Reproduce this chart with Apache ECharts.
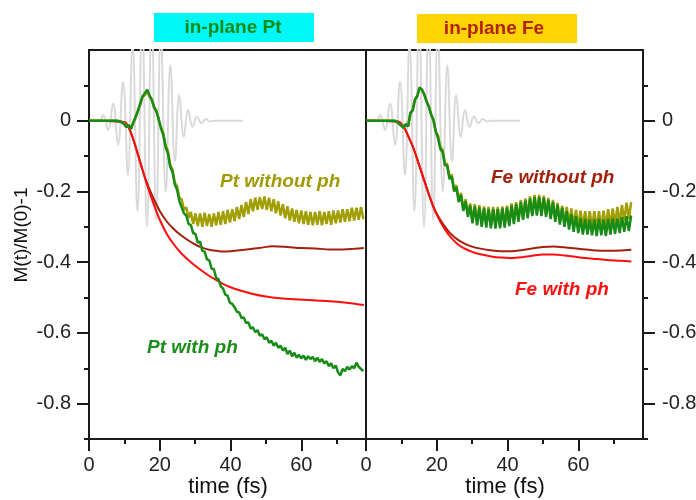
<!DOCTYPE html>
<html><head><meta charset="utf-8">
<script src="https://cdn.jsdelivr.net/npm/echarts@6/dist/echarts.min.js"></script>
<style>html,body{margin:0;padding:0;background:#fff}#c{width:696px;height:500px}</style>
</head><body><div id="c"></div>
<script>
const FONT = '"Liberation Sans", Arial, Helvetica, sans-serif';

// ---- axis ticks / labels ----
const xTickLabels = [0, 20, 40, 60];
const xMinorTicks = [10, 30, 50, 70];
const yTickLabels = [-0.8, -0.6, -0.4, -0.2, 0];
const yMinorTicks = [-0.9, -0.7, -0.5, -0.3, -0.1, 0.1];
const xRange = [0, 78.3];
const yRange = [-0.9, 0.2];

// ---- texts ----
const panelTitles = ['in-plane Pt', 'in-plane Fe'];
const curveLabels = ['Pt without ph', 'Pt with ph', 'Fe without ph', 'Fe with ph'];
const xTitle = 'time (fs)';
const yTitle = 'M(t)/M(0)-1';

// ---- laser pulse (grey, both panels) ----
const pulseT = [0, 3.0, 4.0, 5.4, 6.8, 8.2, 9.6, 11.0, 12.3, 13.7, 15.0, 16.4, 17.7, 19.0, 20.3, 21.7, 23.0, 24.3, 25.5, 26.8, 28.0, 29.3, 30.5, 31.8, 33.0, 34.2, 35.5, 43.5];
const pulseV = [0, 0, 0.016, -0.026, 0.049, -0.068, 0.11, -0.153, 0.22, -0.256, 0.29, -0.30, 0.31, -0.28, 0.25, -0.20, 0.157, -0.115, 0.072, -0.045, 0.03, -0.017, 0.011, -0.007, 0.005, -0.002, 0, 0];

// ---- noisy curves: sampled from t = 8 fs every 0.65 fs (preceded by a flat start at t = 0) ----
const noisyStart = 8, noisyStep = 0.65;
const ptWithoutPh = [
 0.000, -0.002, -0.004, -0.008, -0.016, -0.014, -0.022, -0.005, 0.008, 0.030,
 0.045, 0.070, 0.072, 0.085, 0.068, 0.062, 0.035, 0.030, 0.002, -0.018,
 -0.035, -0.070, -0.085, -0.125, -0.138, -0.175, -0.185, -0.218, -0.222, -0.252,
 -0.245, -0.275, -0.258, -0.292, -0.262, -0.298, -0.262, -0.300, -0.260, -0.298,
 -0.264, -0.300, -0.262, -0.296, -0.258, -0.294, -0.256, -0.292, -0.252, -0.288,
 -0.250, -0.284, -0.244, -0.278, -0.238, -0.272, -0.230, -0.264, -0.222, -0.256,
 -0.218, -0.252, -0.216, -0.250, -0.214, -0.252, -0.218, -0.256, -0.222, -0.262,
 -0.228, -0.268, -0.236, -0.276, -0.242, -0.282, -0.248, -0.286, -0.252, -0.290,
 -0.254, -0.292, -0.256, -0.294, -0.258, -0.296, -0.258, -0.294, -0.256, -0.296,
 -0.258, -0.292, -0.256, -0.294, -0.254, -0.290, -0.254, -0.288, -0.250, -0.286,
 -0.250, -0.284, -0.246, -0.282, -0.246, -0.280, -0.244, -0.278];
const ptWithPh = [
 0.000, -0.002, -0.005, -0.010, -0.018, -0.012, -0.024, -0.004, 0.012, 0.028,
 0.050, 0.068, 0.078, 0.088, 0.072, 0.058, 0.040, 0.025, 0.005, -0.022,
 -0.040, -0.075, -0.092, -0.130, -0.145, -0.180, -0.195, -0.228, -0.245, -0.262,
 -0.268, -0.292, -0.295, -0.318, -0.320, -0.345, -0.342, -0.368, -0.370, -0.392,
 -0.395, -0.418, -0.420, -0.445, -0.448, -0.468, -0.475, -0.492, -0.495, -0.515,
 -0.518, -0.528, -0.540, -0.542, -0.558, -0.556, -0.572, -0.570, -0.588, -0.584,
 -0.598, -0.592, -0.608, -0.604, -0.618, -0.612, -0.628, -0.622, -0.636, -0.628,
 -0.642, -0.636, -0.650, -0.642, -0.660, -0.650, -0.666, -0.656, -0.670, -0.662,
 -0.672, -0.664, -0.676, -0.666, -0.674, -0.668, -0.680, -0.670, -0.682, -0.674,
 -0.686, -0.680, -0.694, -0.686, -0.700, -0.692, -0.712, -0.720, -0.702, -0.708,
 -0.696, -0.704, -0.694, -0.700, -0.684, -0.696, -0.702, -0.708];
const feOlive = [
 0.000, -0.003, -0.008, -0.014, -0.020, -0.010, -0.016, 0.022, 0.030, 0.060,
 0.070, 0.094, 0.088, 0.075, 0.055, 0.040, 0.018, 0.002, -0.030, -0.042,
 -0.074, -0.082, -0.119, -0.122, -0.159, -0.152, -0.194, -0.182, -0.224, -0.204,
 -0.249, -0.222, -0.266, -0.234, -0.284, -0.236, -0.290, -0.239, -0.294, -0.242,
 -0.296, -0.244, -0.298, -0.244, -0.299, -0.244, -0.298, -0.242, -0.296, -0.240,
 -0.292, -0.234, -0.286, -0.230, -0.280, -0.224, -0.274, -0.220, -0.270, -0.214,
 -0.264, -0.210, -0.262, -0.210, -0.264, -0.212, -0.266, -0.218, -0.272, -0.224,
 -0.280, -0.232, -0.288, -0.240, -0.290, -0.244, -0.294, -0.248, -0.298, -0.252,
 -0.300, -0.254, -0.302, -0.256, -0.304, -0.256, -0.304, -0.256, -0.306, -0.256,
 -0.304, -0.254, -0.300, -0.250, -0.298, -0.248, -0.294, -0.244, -0.290, -0.238,
 -0.284, -0.232, -0.278, -0.230];
const feGreen = [
 0.000, -0.003, -0.008, -0.014, -0.020, -0.010, -0.016, 0.022, 0.030, 0.060,
 0.070, 0.094, 0.088, 0.075, 0.055, 0.040, 0.018, 0.002, -0.030, -0.048,
 -0.080, -0.088, -0.125, -0.128, -0.165, -0.158, -0.200, -0.188, -0.230, -0.210,
 -0.255, -0.228, -0.272, -0.240, -0.290, -0.242, -0.296, -0.245, -0.300, -0.248,
 -0.302, -0.250, -0.304, -0.250, -0.305, -0.250, -0.304, -0.248, -0.302, -0.246,
 -0.298, -0.240, -0.292, -0.236, -0.286, -0.230, -0.280, -0.226, -0.276, -0.220,
 -0.270, -0.216, -0.268, -0.216, -0.270, -0.218, -0.272, -0.224, -0.278, -0.230,
 -0.286, -0.238, -0.294, -0.246, -0.300, -0.256, -0.308, -0.264, -0.314, -0.270,
 -0.318, -0.276, -0.322, -0.278, -0.322, -0.280, -0.324, -0.280, -0.326, -0.278,
 -0.324, -0.280, -0.326, -0.278, -0.322, -0.276, -0.320, -0.276, -0.318, -0.272,
 -0.314, -0.270, -0.312, -0.268];

// ---- smooth curves ----
const ptRedT = [0, 10, 11.5, 13, 14.5, 16, 18, 20, 22, 24, 26, 28, 30, 32, 34, 36, 38, 40, 43, 46, 50, 54, 58, 62, 66, 70, 74, 77.7];
const ptRedV = [0, -0.004, -0.025, -0.068, -0.118, -0.168, -0.228, -0.28, -0.32, -0.35, -0.374, -0.393, -0.41, -0.425, -0.439, -0.451, -0.462, -0.471, -0.481, -0.489, -0.497, -0.502, -0.505, -0.507, -0.509, -0.512, -0.516, -0.521];
const ptDarkRedT = [0, 10, 11.5, 13, 14.5, 16, 18, 20, 22, 24, 26, 28, 30, 32, 34, 36, 38, 40, 44, 48, 52, 56, 60, 64, 68, 72, 75, 77.7];
const ptDarkRedV = [0, -0.004, -0.025, -0.068, -0.118, -0.166, -0.215, -0.255, -0.285, -0.307, -0.324, -0.338, -0.35, -0.359, -0.365, -0.368, -0.37, -0.369, -0.365, -0.36, -0.355, -0.357, -0.36, -0.361, -0.364, -0.364, -0.362, -0.36];
const feT = [0, 9, 10.5, 12, 13.5, 15, 16.5, 18, 19.5, 21, 22.5, 24, 26, 28, 30, 32, 35, 38, 41, 44, 47, 50, 53, 56, 60, 64, 68, 72, 75];
const feWithPh = [0, -0.002, -0.015, -0.045, -0.08, -0.125, -0.17, -0.215, -0.255, -0.285, -0.31, -0.33, -0.35, -0.362, -0.371, -0.377, -0.383, -0.387, -0.388, -0.386, -0.382, -0.378, -0.378, -0.381, -0.386, -0.39, -0.394, -0.396, -0.398];
const feWithoutPh = [0, -0.002, -0.015, -0.045, -0.08, -0.125, -0.17, -0.215, -0.253, -0.28, -0.302, -0.32, -0.337, -0.348, -0.356, -0.361, -0.366, -0.369, -0.369, -0.366, -0.361, -0.357, -0.356, -0.358, -0.362, -0.366, -0.368, -0.367, -0.365];

// ---- colours ----
const C = { grey: '#d9d9d9', olive: '#a09e00', green: '#178c17', darkred: '#a3200c', red: '#ff0d0d', axis: '#1a1a1a' };

function pairs(ts, vs) { return vs.map((v, i) => [ts[i], v]); }
function noisy(vs) {
  const out = [[0, 0]];
  vs.forEach((v, i) => out.push([+(noisyStart + noisyStep * i).toFixed(2), v]));
  return out;
}

const grids = [
  { left: 89, top: 50, width: 277, height: 389, show: true, borderColor: C.axis, borderWidth: 2, containLabel: false, outerBoundsMode: 'none' },
  { left: 366, top: 50, width: 277, height: 389, show: true, borderColor: C.axis, borderWidth: 2, containLabel: false, outerBoundsMode: 'none' }
];

const xAxes = [], yAxes = [];
[0, 1].forEach(g => {
  xAxes.push({
    type: 'value', gridIndex: g, min: xRange[0], max: xRange[1], position: 'bottom',
    axisLine: { show: false, onZero: false }, splitLine: { show: false },
    axisTick: { show: true, length: 12, customValues: xTickLabels, lineStyle: { color: C.axis, width: 2 } },
    axisLabel: { customValues: xTickLabels, margin: 16, fontSize: 20, color: '#222', fontFamily: FONT }
  });
  xAxes.push({
    type: 'value', gridIndex: g, min: xRange[0], max: xRange[1], position: 'bottom',
    axisLine: { show: false, onZero: false }, splitLine: { show: false },
    axisTick: { show: true, length: 5, customValues: xMinorTicks, lineStyle: { color: C.axis, width: 2 } },
    axisLabel: { show: false }
  });
  const pos = g === 0 ? 'left' : 'right';
  yAxes.push({
    type: 'value', gridIndex: g, min: yRange[0], max: yRange[1], position: pos,
    axisLine: { show: false, onZero: false }, splitLine: { show: false },
    axisTick: { show: true, length: 12, customValues: yTickLabels, lineStyle: { color: C.axis, width: 2 } },
    axisLabel: { customValues: yTickLabels, margin: g === 0 ? 18 : 19, fontSize: 20, color: '#222', fontFamily: FONT,
      formatter: v => (Math.abs(v) < 1e-9 ? '0' : String(+v.toFixed(1))) }
  });
  yAxes.push({
    type: 'value', gridIndex: g, min: yRange[0], max: yRange[1], position: pos,
    axisLine: { show: false, onZero: false }, splitLine: { show: false },
    axisTick: { show: true, length: 5, customValues: yMinorTicks, lineStyle: { color: C.axis, width: 2 } },
    axisLabel: { show: false }
  });
});

function line(ax, data, color, width, smooth) {
  return { type: 'line', xAxisIndex: ax, yAxisIndex: ax, data: data, showSymbol: false, symbol: 'none',
    smooth: smooth, lineStyle: { color: color, width: width }, silent: true };
}

const series = [
  line(0, pairs(pulseT, pulseV), C.grey, 2, 0.45),
  line(0, pairs(ptDarkRedT, ptDarkRedV), C.darkred, 2, 0.3),
  line(0, pairs(ptRedT, ptRedV), C.red, 2, 0.3),
  line(0, noisy(ptWithoutPh), C.olive, 2.5, false),
  line(0, noisy(ptWithPh), C.green, 2.5, false),
  line(2, pairs(pulseT, pulseV), C.grey, 2, 0.45),
  line(2, pairs(feT, feWithoutPh), C.darkred, 2, 0.3),
  line(2, pairs(feT, feWithPh), C.red, 2, 0.3),
  line(2, noisy(feOlive), C.olive, 2.5, false),
  line(2, noisy(feGreen), C.green, 2.5, false)
];

function txt(x, y, text, font, fill, align, rotation) {
  return { type: 'text', x: x, y: y, rotation: rotation || 0, silent: true,
    style: { text: text, font: font, fill: fill, align: align || 'center', verticalAlign: 'middle',
      textAlign: align || 'center', textVerticalAlign: 'middle' } };
}
const boldF = 'bold 19px ' + FONT;
const labF = 'italic bold 19px ' + FONT;

const graphic = [
  { type: 'rect', shape: { x: 154, y: 13, width: 160, height: 29 }, style: { fill: '#00f7f7' }, silent: true },
  txt(233, 28, panelTitles[0], boldF, '#158a15'),
  { type: 'rect', shape: { x: 417, y: 14, width: 160, height: 29 }, style: { fill: '#ffd400' }, silent: true },
  txt(494, 29, panelTitles[1], boldF, '#b3200c'),
  txt(22, 235, yTitle, '19px ' + FONT, '#111', 'center', Math.PI / 2),
  txt(228, 487, xTitle, '22px ' + FONT, '#111'),
  txt(505, 487, xTitle, '22px ' + FONT, '#111'),
  txt(220, 182, curveLabels[0], labF, '#a09a00', 'left'),
  txt(147, 348, curveLabels[1], labF, '#1a8c1a', 'left'),
  txt(491, 178, curveLabels[2], labF, '#a3200c', 'left'),
  txt(515, 290, curveLabels[3], labF, '#ff1010', 'left')
];

const chart = echarts.init(document.getElementById('c'), null, { renderer: 'canvas' });
chart.setOption({
  animation: false,
  backgroundColor: '#ffffff',
  textStyle: { fontFamily: FONT },
  grid: grids,
  xAxis: xAxes,
  yAxis: yAxes,
  series: series,
  graphic: graphic
});
</script>
</body></html>
